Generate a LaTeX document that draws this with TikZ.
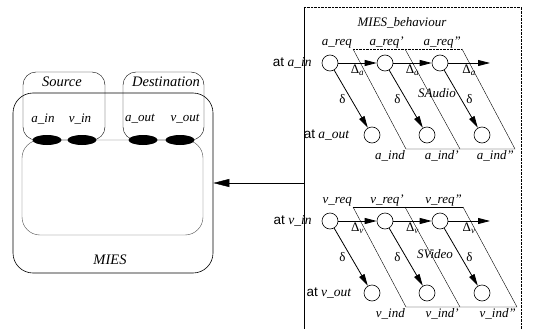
\documentclass[tikz,border=0pt]{standalone}
\usepackage{fontspec}
\setmainfont{Liberation Serif}
\setsansfont{Liberation Sans}
\usetikzlibrary{shapes.geometric,arrows.meta}

\tikzset{
	roundbox/.style={draw, rounded corners=#1, inner sep=0pt},
	port/.style={ellipse, fill=black, minimum width=29pt, minimum height=10pt, inner sep=0pt},
	state/.style={circle, draw, semithick, minimum size=16pt, inner sep=0pt},
	lbl/.style={font=\fontsize{13}{15}\selectfont\itshape, inner sep=1pt},
	biglbl/.style={font=\fontsize{14.5}{17}\selectfont\itshape, inner sep=1pt},
	atlbl/.style={font=\fontsize{13.5}{15}\selectfont, inner sep=1pt, anchor=east},
	flow/.style={thick, -{Triangle[length=12pt,width=6pt]}},
}

\begin{document}
\begin{tikzpicture}[x=1pt, y=-1pt]
	\useasboundingbox (0,0) rectangle (543,329);
	\node[roundbox=20pt, semithick, minimum width=200pt, minimum height=180pt](mies) at (113,183){};
	\node[roundbox=18pt, thin, draw=black!70, minimum width=181pt, minimum height=95pt](core) at (112.5,187.5){};
	\node[roundbox=13pt, thin, minimum width=82pt, minimum height=68pt](src) at (64,106){};
	\node[roundbox=13pt, thin, minimum width=81pt, minimum height=68pt](dst) at (163.5,106){};
	\node[port](Pai) at (47,140){};
	\node[port](Pvi) at (82,140){};
	\node[port](Pao) at (143,140){};
	\node[port](Pvo) at (180,140){};
	\node[biglbl](Lsrc) at (62,82){Source};
	\node[biglbl](Ldst) at (166,82){Destination};
	\node[biglbl](Lmies) at (110,260){MIES};
	\node[lbl](Lai) at (43,119){a\_in};
	\node[lbl](Lvi) at (80,119){v\_in};
	\node[lbl](Lao) at (140,119){a\_out};
	\node[lbl](Lvo) at (185,119){v\_out};

	\node[minimum width=217pt, minimum height=340pt, inner sep=0pt](behav) at (412.5,177){};
	\draw[thin] (behav.north west) -- (behav.south west);
	\draw[densely dotted] (behav.north west) -- (behav.north east) -- (behav.south east);
	\node[lbl](Lbeh) at (402,23){MIES\_behaviour};
	\draw[-{Triangle[length=16pt,width=8pt]}] (behav.west |- mies.east) -- (mies.east);

	\node[state](ai1) at (330,63){};
	\node[state](ai2) at (385,63){};
	\node[state](ai3) at (440,63){};
	\node[state](ao1) at (372,135){};
	\node[state](ao2) at (427,135){};
	\node[state](ao3) at (482,135){};
	\coordinate (aend) at (490,63);
	\node[atlbl](Lati) at ([xshift=-9pt]ai1.west){{\sffamily at} \textit{a\_in}};
	\node[atlbl](Lato) at ([xshift=-13pt]ao1.west){{\sffamily at} \textit{a\_out}};
	\draw[flow] (ai1) -- node[lbl, below=1pt]{\upshape Δ\textsubscript{\itshape a}} (ai2);
	\draw[flow] (ai2) -- node[lbl, below=1pt]{\upshape Δ\textsubscript{\itshape a}} (ai3);
	\draw[flow] (ai3) -- node[lbl, below=1pt]{\upshape Δ\textsubscript{\itshape a}} (aend);
	\draw[flow] (ai1) -- node[lbl, left=4pt]{\upshape δ} (ao1);
	\draw[flow] (ai2) -- node[lbl, left=4pt]{\upshape δ} (ao2);
	\draw[flow] (ai3) -- node[lbl, right=4pt]{\upshape δ} (ao3);
	\coordinate (aq1) at (353,49);
	\coordinate (aq2) at (405,49);
	\coordinate (aq3) at (462,49);
	\coordinate (ad1) at (406,149);
	\coordinate (ad2) at (460,149);
	\coordinate (ad3) at (515,149);
	\draw[thin] (aq1) -- (ad1) -- (ad3) -- (aq3);
	\draw[thin] (aq2) -- (ad2);
	\draw[densely dotted] (aq1) -- (aq3);
	\node[lbl, anchor=south east](Laq1) at (aq1){a\_req};
	\node[lbl, anchor=south east](Laq2) at (aq2){a\_req'};
	\node[lbl, anchor=south east](Laq3) at (aq3){a\_req''};
	\node[lbl, anchor=north east](Lad1) at (ad1){a\_ind};
	\node[lbl, anchor=north east](Lad2) at (ad2){a\_ind'};
	\node[lbl, anchor=north east](Lad3) at (ad3){a\_ind''};
	\node[lbl](Lsa) at (437,93){SAudio};

	\node[state](vi1) at (330,221){};
	\node[state](vi2) at (385,221){};
	\node[state](vi3) at (440,221){};
	\node[state](vo1) at (372,293){};
	\node[state](vo2) at (427,293){};
	\node[state](vo3) at (482,293){};
	\coordinate (vend) at (490,221);
	\node[atlbl](Lvti) at ([xshift=-9pt]vi1.west){{\sffamily at} \textit{v\_in}};
	\node[atlbl](Lvto) at ([xshift=-11pt]vo1.west){{\sffamily at} \textit{v\_out}};
	\draw[flow] (vi1) -- node[lbl, below=1pt]{\upshape Δ\textsubscript{\itshape v}} (vi2);
	\draw[flow] (vi2) -- node[lbl, below=1pt]{\upshape Δ\textsubscript{\itshape v}} (vi3);
	\draw[flow] (vi3) -- node[lbl, below=1pt]{\upshape Δ\textsubscript{\itshape v}} (vend);
	\draw[flow] (vi1) -- node[lbl, left=4pt]{\upshape δ} (vo1);
	\draw[flow] (vi2) -- node[lbl, left=4pt]{\upshape δ} (vo2);
	\draw[flow] (vi3) -- node[lbl, right=4pt]{\upshape δ} (vo3);
	\coordinate (vq1) at (353,207);
	\coordinate (vq2) at (405,207);
	\coordinate (vq3) at (463,207);
	\coordinate (vd1) at (406,307);
	\coordinate (vd2) at (460,307);
	\coordinate (vd3) at (517,307);
	\draw[thin] (vq1) -- (vd1) -- (vd3) -- (vq3);
	\draw[thin] (vq2) -- (vd2);
	\draw[thin] (vq1) -- (vq3);
	\node[lbl, anchor=south east](Lvq1) at (vq1){v\_req};
	\node[lbl, anchor=south east](Lvq2) at (vq2){v\_req'};
	\node[lbl, anchor=south east](Lvq3) at (vq3){v\_req''};
	\node[lbl, anchor=north east](Lvd1) at (vd1){v\_ind};
	\node[lbl, anchor=north east](Lvd2) at (vd2){v\_ind'};
	\node[lbl, anchor=north east](Lvd3) at (vd3){v\_ind''};
	\node[lbl](Lsv) at (435,254){SVideo};
\end{tikzpicture}
\end{document}
